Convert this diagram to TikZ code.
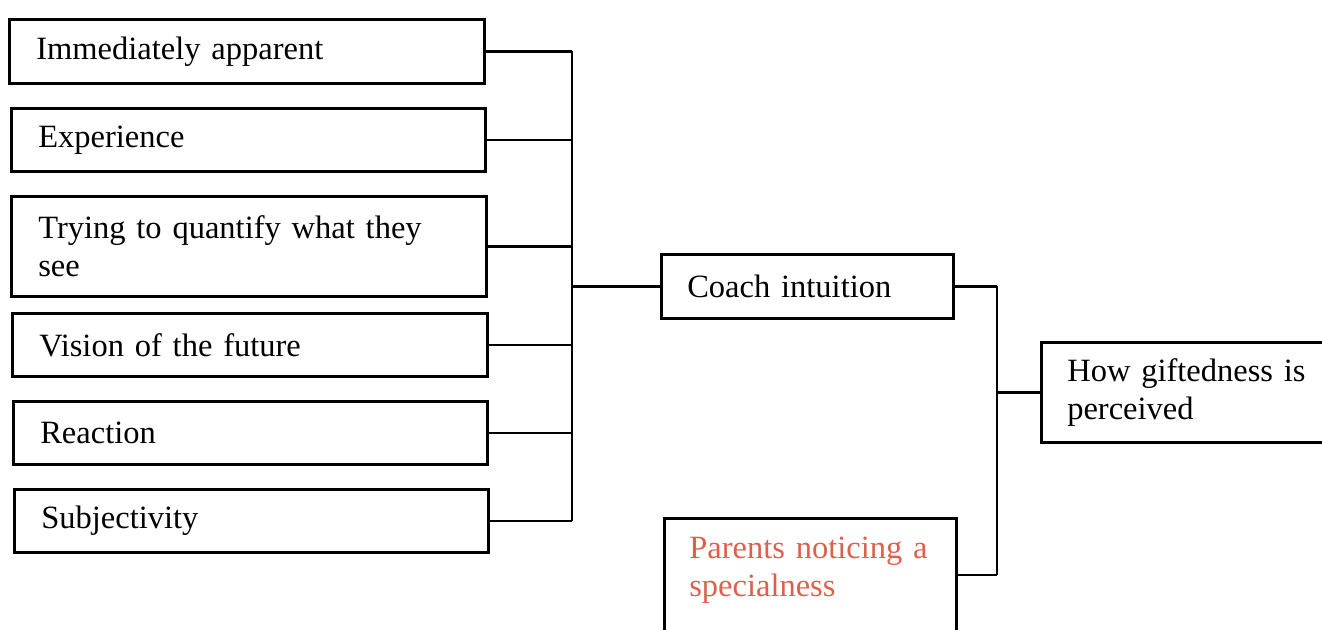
\documentclass[tikz,border=0pt]{standalone}
\usepackage{fontspec}
\setmainfont{Liberation Serif}
\usetikzlibrary{calc}
\definecolor{parentred}{RGB}{222,96,76}
\begin{document}
\begin{tikzpicture}[x=1pt,y=-1pt,
  box/.style={draw=black, line width=2.6pt, rectangle, anchor=north west,
    align=left, inner xsep=27pt, inner ysep=0pt,
    font=\fontsize{32.5}{38}\selectfont},
  link/.style={draw=black, line width=2.6pt}]
  \useasboundingbox (0,0) rectangle (1322,629);
  \clip (0,0) rectangle (1322,629);

  % factor boxes on the left
  \node[box, text width=421pt, minimum height=64pt] (b1) at (8,18) {Immediately apparent};
  \node[box, text width=420pt, minimum height=63pt] (b2) at (10,107) {Experience};
  \node[box, text width=421pt, minimum height=100pt] (b3) at (10,195) {Trying to quantify what they\\see};
  \node[box, text width=421pt, minimum height=63pt] (b4) at (11,312) {Vision of the future};
  \node[box, text width=420pt, minimum height=63pt] (b5) at (12,400) {Reaction};
  \node[box, text width=420pt, minimum height=63pt] (b6) at (13,488) {Subjectivity};

  % middle and right boxes
  \node[box, text width=240pt, minimum height=64pt, inner xsep=26pt] (coach) at (660,253) {Coach intuition};
  \node[box, text width=242pt, inner xsep=25pt, text height=40pt, text depth=110pt,
        text=parentred] (parents) at (663,517) {Parents noticing a\\specialness};
  \node[box, text width=260pt, minimum height=100pt, inner xsep=26pt] (how) at (1040,341) {How giftedness is\\perceived};

  % bus lines
  \coordinate (busA) at (572,0);
  \coordinate (busB) at (997,0);
  \coordinate (pconn) at ($(parents.north east)+(0,58)$);

  \foreach \n in {b1,b2,b3,b4,b5,b6}
    \draw[link] (\n.east) -- (\n.east -| busA);
  \draw[link] (b1.east -| busA) -- (b6.east -| busA);
  \draw[link] (coach.west -| busA) -- (coach.west);

  \draw[link] (coach.east) -- (coach.east -| busB);
  \draw[link] (pconn) -- (pconn -| busB);
  \draw[link] (coach.east -| busB) -- (pconn -| busB);
  \draw[link] (how.west -| busB) -- (how.west);
\end{tikzpicture}
\end{document}
